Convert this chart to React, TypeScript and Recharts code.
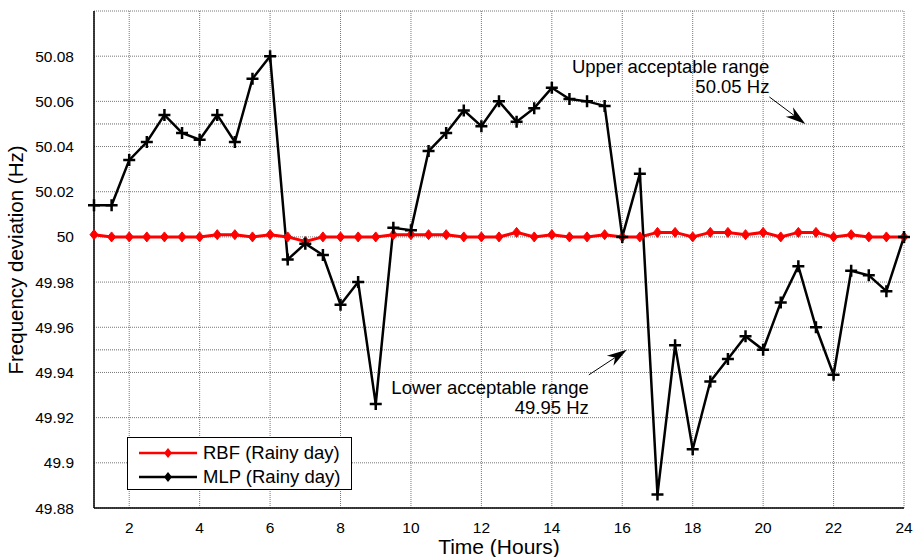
import React from 'react';
import {
  LineChart,
  Line,
  XAxis,
  YAxis,
  CartesianGrid,
  ReferenceLine,
  ReferenceDot,
  Legend,
} from 'recharts';

const hours = [
  1, 1.5, 2, 2.5, 3, 3.5, 4, 4.5, 5, 5.5, 6, 6.5, 7, 7.5, 8, 8.5, 9, 9.5, 10, 10.5, 11, 11.5, 12,
  12.5, 13, 13.5, 14, 14.5, 15, 15.5, 16, 16.5, 17, 17.5, 18, 18.5, 19, 19.5, 20, 20.5, 21, 21.5, 22,
  22.5, 23, 23.5, 24,
];

const rbf = [
  50.001, 50.0, 50.0, 50.0, 50.0, 50.0, 50.0, 50.001, 50.001, 50.0, 50.001, 50.0, 49.998, 50.0, 50.0,
  50.0, 50.0, 50.001, 50.001, 50.001, 50.001, 50.0, 50.0, 50.0, 50.002, 50.0, 50.001, 50.0, 50.0,
  50.001, 50.0, 50.0, 50.002, 50.002, 50.0, 50.002, 50.002, 50.001, 50.002, 50.0, 50.002, 50.002,
  50.0, 50.001, 50.0, 50.0, 50.0,
];

const mlp = [
  50.014, 50.014, 50.034, 50.042, 50.054, 50.046, 50.043, 50.054, 50.042, 50.07, 50.08, 49.99,
  49.997, 49.992, 49.97, 49.98, 49.926, 50.004, 50.003, 50.038, 50.046, 50.056, 50.049, 50.06,
  50.051, 50.057, 50.066, 50.061, 50.06, 50.058, 50.0, 50.028, 49.886, 49.952, 49.906, 49.936,
  49.946, 49.956, 49.95, 49.971, 49.987, 49.96, 49.939, 49.985, 49.983, 49.976, 50.0,
];

const xTicks = [2, 4, 6, 8, 10, 12, 14, 16, 18, 20, 22, 24];
const yTicks = [49.88, 49.9, 49.92, 49.94, 49.96, 49.98, 50, 50.02, 50.04, 50.06, 50.08];
const limits = [50.05, 49.95];

const data = hours.map((h, i) => ({ hour: h, rbf: rbf[i], mlp: mlp[i] }));

const FONT = 'Liberation Sans, Arial, Helvetica, sans-serif';

const fmt = (v: number) => String(Number(v.toFixed(2)));

const PlusDot = (props: any) => {
  const { cx, cy, index } = props;
  if (cx == null || cy == null) return null;
  return (
    <path
      key={`p-${index}`}
      d={`M${cx - 6},${cy}H${cx + 6}M${cx},${cy - 6}V${cy + 6}`}
      stroke="#000"
      strokeWidth={2.5}
      fill="none"
    />
  );
};

const DiamondDot = (props: any) => {
  const { cx, cy, index } = props;
  if (cx == null || cy == null) return null;
  return (
    <path
      key={`d-${index}`}
      d={`M${cx},${cy - 5}L${cx + 4},${cy}L${cx},${cy + 5}L${cx - 4},${cy}Z`}
      fill="#ff0000"
      stroke="#ff0000"
      strokeWidth={1}
    />
  );
};

// arrow + two-line note anchored to the point the arrow hits
const makeNote = (line1: string, line2: string, dx: number, dy: number, t1: number, t2: number) =>
  (props: any) => {
    const { cx, cy } = props;
    const tx = cx + dx;
    const ty = cy + dy;
    const len = Math.hypot(cx - tx, cy - ty);
    const ux = (cx - tx) / len;
    const uy = (cy - ty) / len;
    const hl = 20;
    const hw = 6;
    const bx = cx - ux * hl;
    const by = cy - uy * hl;
    return (
      <g>
        <line x1={tx} y1={ty} x2={bx + ux * 6} y2={by + uy * 6} stroke="#000" strokeWidth={1} />
        <path
          d={`M${cx},${cy}L${bx - uy * hw},${by + ux * hw}L${bx + ux * 6},${by + uy * 6}L${bx + uy * hw},${by - ux * hw}Z`}
          fill="#000"
        />
        <text x={tx} y={cy + t1} textAnchor="end" fontSize={18.5} fontFamily={FONT} fill="#000">
          {line1}
        </text>
        <text x={tx} y={cy + t2} textAnchor="end" fontSize={18.5} fontFamily={FONT} fill="#000">
          {line2}
        </text>
      </g>
    );
  };

const upperNote = makeNote('Upper acceptable range', '50.05 Hz', -36, -27, -51, -31);
const lowerNote = makeNote('Lower acceptable range', '49.95 Hz', -38, 25, 44, 64);

const LegendBox = () => {
  const items = [
    { name: 'RBF (Rainy day)', color: '#ff0000' },
    { name: 'MLP (Rainy day)', color: '#000000' },
  ];
  return (
    <div
      style={{
        border: '1.5px solid #000',
        background: '#fff',
        width: 225,
        height: 53,
        boxSizing: 'border-box',
        padding: '3px 0 0 10px',
        fontFamily: FONT,
        fontSize: 18.5,
        color: '#000',
      }}
    >
      {items.map((it) => (
        <div key={it.name} style={{ display: 'flex', alignItems: 'center', height: 24 }}>
          <svg width={60} height={14} style={{ marginRight: 5 }}>
            <line x1={1} y1={7} x2={59} y2={7} stroke={it.color} strokeWidth={2.5} />
            <path d="M30,2L34,7L30,12L26,7Z" fill={it.color} />
          </svg>
          <span>{it.name}</span>
        </div>
      ))}
    </div>
  );
};

export default function App() {
  return (
    <div style={{ position: 'absolute', left: 0, top: 0, background: '#fff' }}>
      <LineChart width={917} height={557} data={data} margin={{ top: 11, right: 13, bottom: 0, left: 0 }}>
        <CartesianGrid stroke="#777" strokeDasharray="1 1" strokeWidth={1} />
        {limits.map((v) => (
          <ReferenceLine key={v} y={v} stroke="#666" strokeDasharray="1 1" strokeWidth={1} />
        ))}
        <XAxis
          dataKey="hour"
          type="number"
          domain={[1, 24]}
          ticks={xTicks}
          tickLine={false}
          tickMargin={8}
          axisLine={{ stroke: '#000', strokeWidth: 1.5 }}
          tick={{ fill: '#000', fontSize: 15.5, fontFamily: FONT }}
          height={49}
          label={{ value: 'Time (Hours)', position: 'insideBottom', offset: 3, fill: '#000', fontSize: 21, fontFamily: FONT }}
        />
        <XAxis xAxisId="top" orientation="top" type="number" domain={[1, 24]} tick={false} tickLine={false} height={0} axisLine={{ stroke: '#000', strokeWidth: 1.5 }} />
        <YAxis
          type="number"
          domain={[49.88, 50.1]}
          ticks={yTicks}
          tickFormatter={fmt}
          tickLine={false}
          tickMargin={14}
          width={94}
          allowDataOverflow
          axisLine={{ stroke: '#000', strokeWidth: 1.5 }}
          tick={{ fill: '#000', fontSize: 15.5, fontFamily: FONT }}
          label={{ value: 'Frequency deviation (Hz)', angle: -90, position: 'insideLeft', offset: 16, dy: 115, fill: '#000', fontSize: 20.5, fontFamily: FONT }}
        />
        <YAxis yAxisId="right" orientation="right" type="number" domain={[49.88, 50.1]} tick={false} tickLine={false} width={0} axisLine={{ stroke: '#000', strokeWidth: 1.5 }} />
        <Line
          dataKey="rbf"
          name="RBF (Rainy day)"
          stroke="#ff0000"
          strokeWidth={3}
          dot={DiamondDot}
          isAnimationActive={false}
        />
        <Line
          dataKey="mlp"
          name="MLP (Rainy day)"
          stroke="#000"
          strokeWidth={2.5}
          dot={PlusDot}
          isAnimationActive={false}
        />
        <ReferenceDot x={21.2} y={50.05} r={0} shape={upperNote} ifOverflow="visible" />
        <ReferenceDot x={16.13} y={49.95} r={0} shape={lowerNote} ifOverflow="visible" />
        <Legend
          layout="horizontal"
          verticalAlign="middle"
          content={<LegendBox />}
          wrapperStyle={{ left: 127, top: 437, width: 225, height: 53 }}
        />
      </LineChart>
    </div>
  );
}
